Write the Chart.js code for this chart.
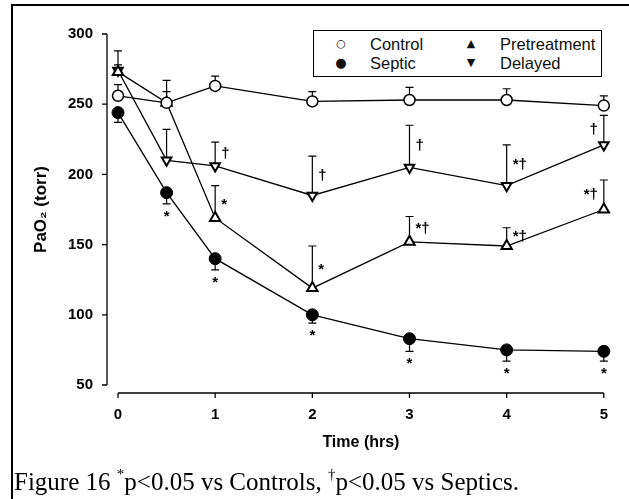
<!DOCTYPE html>
<html>
<head>
<meta charset="utf-8">
<script src="https://cdn.jsdelivr.net/npm/chart.js@4.4.0/dist/chart.umd.min.js"></script>
<style>
  html, body { margin: 0; padding: 0; background: #fff; }
  #wrap { position: relative; width: 629px; height: 499px; overflow: hidden; }
  #c { position: absolute; left: 0; top: 0; }
  #legend {
    position: absolute; left: 313px; top: 30px; width: 287px; height: 45px;
    border: 1.5px solid #000; background: #fff;
    font-family: "Liberation Sans", Arial, sans-serif; font-size: 16.5px; color: #111;
  }
  #legend .it { position: absolute; white-space: nowrap; line-height: 18px; }
  #legend .mk { position: absolute; width: 16px; text-align: center; font-family: "DejaVu Sans", sans-serif; }
  #legend .tx { position: absolute; }
  #caption {
    position: absolute; left: 14px; top: 469px; white-space: nowrap; line-height: 25px;
    font-family: "Liberation Serif", "Times New Roman", serif; font-size: 25px; color: #000;
  }
  #caption sup { font-size: 15px; vertical-align: 11px; line-height: 0; }
</style>
</head>
<body>
<div id="wrap">
  <canvas id="c" width="629" height="499"></canvas>
  <div id="legend">
    <div class="it" style="left:0;top:4px;"><span class="mk" style="left:19px;font-size:11px;">○</span><span class="tx" style="left:56px;">Control</span></div>
    <div class="it" style="left:0;top:23px;"><span class="mk" style="left:19px;font-size:13px;">●</span><span class="tx" style="left:56px;">Septic</span></div>
    <div class="it" style="left:0;top:4px;"><span class="mk" style="left:149px;font-size:11px;">▲</span><span class="tx" style="left:186px;">Pretreatment</span></div>
    <div class="it" style="left:0;top:23px;"><span class="mk" style="left:149px;font-size:11px;">▼</span><span class="tx" style="left:186px;">Delayed</span></div>
  </div>
  <div id="caption">Figure 16 <sup>*</sup>p&lt;0.05 vs Controls, <sup>†</sup>p&lt;0.05 vs Septics.</div>
</div>
<script>
// ---- data ----
const times        = [0, 0.5, 1, 2, 3, 4, 5];
const xTicks       = [0, 1, 2, 3, 4, 5];
const yTicks       = [50, 100, 150, 200, 250, 300];

const control      = [256, 251, 263, 252, 253, 253, 249];
const controlSem   = [8, 8, 7, 7, 9, 8, 7];          // drawn upward
const septic       = [244, 187, 140, 100, 83, 75, 74];
const septicSem    = [7, 8, 8, 6, 9, 8, 7];          // drawn downward
const pretreat     = [273, 251, 169, 119, 152, 149, 175];
const pretreatSem  = [15, 16, 23, 30, 18, 13, 21];   // drawn upward
const delayed      = [274, 210, 206, 185, 205, 192, 221];
const delayedSem   = [4, 22, 17, 28, 30, 29, 21];    // drawn upward

// significance marks: [point index, text]
const septicMarks   = [[1, '*'], [2, '*'], [3, '*'], [4, '*'], [5, '*'], [6, '*']];
const pretreatMarks = [[2, '*'], [3, '*'], [4, '*†'], [5, '*†'], [6, '*†']];
const delayedMarks  = [[2, '†'], [3, '†'], [4, '†'], [5, '*†'], [6, '†']];

const pts = arr => arr.map((v, i) => ({x: times[i], y: v}));

const errBars = [
  {vals: control,  sem: controlSem,  dir: 1},
  {vals: septic,   sem: septicSem,   dir: -1},
  {vals: pretreat, sem: pretreatSem, dir: 1},
  {vals: delayed,  sem: delayedSem,  dir: 1}
];

const decor = {
  id: 'decor',
  beforeDatasetsDraw(chart) {
    const {ctx, chartArea: ca, scales: {x, y}} = chart;
    ctx.save();
    ctx.strokeStyle = '#000';
    // figure frame (top + left)
    ctx.lineWidth = 2;
    ctx.beginPath();
    ctx.moveTo(12, 499); ctx.lineTo(12, 5); ctx.lineTo(629, 5);
    ctx.stroke();
    // detached y axis
    ctx.lineWidth = 1.3;
    const ax = ca.left - 11;
    ctx.beginPath();
    ctx.moveTo(ax, y.getPixelForValue(yTicks[yTicks.length - 1]));
    ctx.lineTo(ax, y.getPixelForValue(yTicks[0]));
    yTicks.forEach(v => { const py = y.getPixelForValue(v); ctx.moveTo(ax, py); ctx.lineTo(ax - 5, py); });
    ctx.stroke();
    // detached x axis
    const ay = ca.bottom + 8;
    ctx.beginPath();
    ctx.moveTo(x.getPixelForValue(xTicks[0]), ay);
    ctx.lineTo(x.getPixelForValue(xTicks[xTicks.length - 1]), ay);
    xTicks.forEach(v => { const px = x.getPixelForValue(v); ctx.moveTo(px, ay); ctx.lineTo(px, ay + 5); });
    ctx.stroke();
    // error bars
    ctx.lineWidth = 1.2;
    errBars.forEach(e => {
      e.vals.forEach((v, i) => {
        const px = x.getPixelForValue(times[i]);
        const p0 = y.getPixelForValue(v);
        const p1 = y.getPixelForValue(v + e.dir * e.sem[i]);
        ctx.beginPath();
        ctx.moveTo(px, p0); ctx.lineTo(px, p1);
        ctx.moveTo(px - 4, p1); ctx.lineTo(px + 4, p1);
        ctx.stroke();
      });
    });
    ctx.restore();
  },
  afterDatasetsDraw(chart) {
    const {ctx, scales: {x, y}} = chart;
    ctx.save();
    ctx.fillStyle = '#000';
    ctx.font = 'bold 15px "Liberation Sans", Arial, sans-serif';
    ctx.textBaseline = 'middle';
    // septic: star under the lower error bar
    ctx.textAlign = 'center';
    septicMarks.forEach(([i, t]) => {
      const px = x.getPixelForValue(times[i]);
      const py = y.getPixelForValue(septic[i] - septicSem[i]);
      ctx.fillText(t, px, py + 13);
    });
    const side = (vals, sem, marks) => {
      marks.forEach(([i, t]) => {
        const px = x.getPixelForValue(times[i]);
        const py = y.getPixelForValue(vals[i] + sem[i] * 0.5);
        const last = i === times.length - 1;
        ctx.textAlign = last ? 'right' : 'left';
        ctx.fillText(t, last ? px - 6 : px + 6, py + (t === '*' ? 3 : 0));
      });
    };
    side(pretreat, pretreatSem, pretreatMarks);
    side(delayed, delayedSem, delayedMarks);
    ctx.restore();
  }
};

const tickFont = {family: '"Liberation Sans", Arial, sans-serif', size: 15, weight: 'bold'};

new Chart(document.getElementById('c'), {
  type: 'line',
  data: {
    datasets: [
      {label: 'Control', data: pts(control), pointStyle: 'circle', pointRadius: 5.5,
       pointBackgroundColor: '#fff', pointBorderColor: '#000', pointBorderWidth: 1.5},
      {label: 'Septic', data: pts(septic), pointStyle: 'circle', pointRadius: 6,
       pointBackgroundColor: '#000', pointBorderColor: '#000', pointBorderWidth: 1},
      {label: 'Pretreatment', data: pts(pretreat), pointStyle: 'triangle', pointRadius: 6,
       pointBackgroundColor: '#fff', pointBorderColor: '#000', pointBorderWidth: 2},
      {label: 'Delayed', data: pts(delayed), pointStyle: 'triangle', pointRotation: 180, pointRadius: 5.5,
       pointBackgroundColor: '#fff', pointBorderColor: '#000', pointBorderWidth: 2}
    ].map(d => Object.assign(d, {borderColor: '#000', borderWidth: 1.3, fill: false, tension: 0, clip: false}))
  },
  options: {
    responsive: false,
    animation: false,
    devicePixelRatio: 1,
    layout: {padding: {left: 0, right: 21, top: 33, bottom: 44}},
    plugins: {legend: {display: false}, tooltip: {enabled: false}},
    scales: {
      x: {
        type: 'linear', min: 0, max: 5,
        grid: {display: false, drawTicks: false}, border: {display: false},
        afterBuildTicks: s => { s.ticks = xTicks.map(v => ({value: v})); },
        ticks: {color: '#000', font: tickFont, padding: 21, maxRotation: 0},
        title: {display: true, text: 'Time (hrs)', color: '#000', font: {family: '"Liberation Sans", Arial, sans-serif', size: 16, weight: 'bold'}, padding: {top: 0, bottom: 3}},
        afterFit: s => { s.height = 70; }
      },
      y: {
        min: 50, max: 300,
        grid: {display: false, drawTicks: false}, border: {display: false},
        afterBuildTicks: s => { s.ticks = yTicks.map(v => ({value: v})); },
        ticks: {color: '#000', font: tickFont, padding: 25},
        title: {display: true, text: 'PaO₂ (torr)', color: '#000', font: {family: '"Liberation Sans", Arial, sans-serif', size: 17, weight: 'bold'}, padding: {top: 31, bottom: 0}},
        afterFit: s => { s.width = 118; }
      }
    }
  },
  plugins: [decor]
});
</script>
</body>
</html>
